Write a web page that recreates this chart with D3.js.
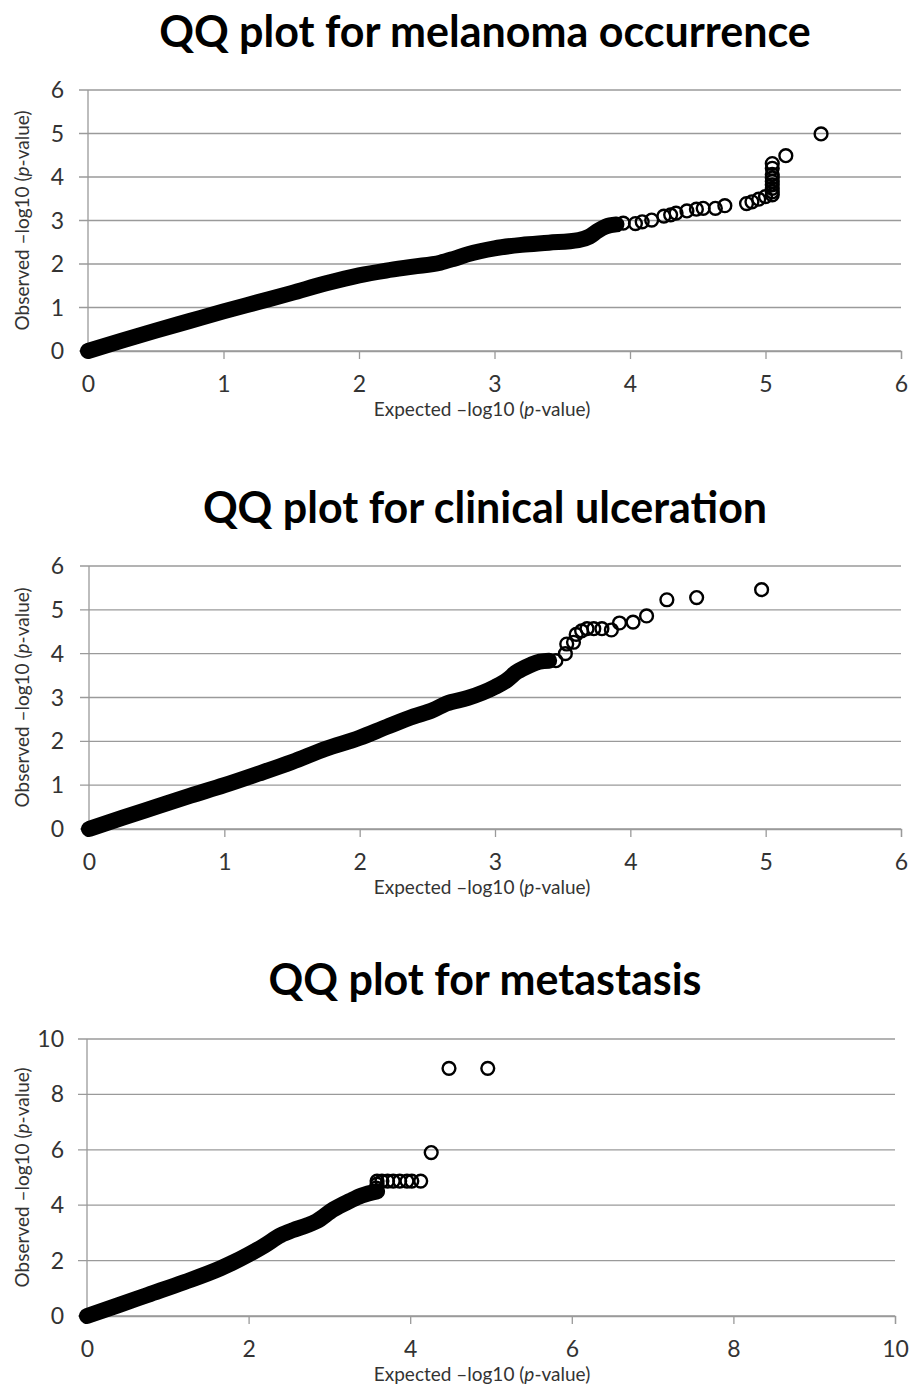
<!DOCTYPE html>
<html>
<head>
<meta charset="utf-8">
<script src="https://cdn.jsdelivr.net/npm/d3@7"></script>
<style>
  body { margin: 0; background: #fff; }
  text { font-family: Lato, "Open Sans", sans-serif; }
</style>
</head>
<body>
<div id="chart"></div>
<script>
// points: [expected, observed]
// dense part of each plot (drawn as a thick band of overlapping markers)
const melanomaDense = [[0,0],[0.25,0.24],[0.5,0.47],[0.75,0.69],[1,0.91],[1.25,1.12],[1.5,1.33],[1.75,1.55],[2,1.74],[2.2,1.85],[2.4,1.94],[2.6,2.03],[2.7,2.12],[2.8,2.22],[3.0,2.36],[3.2,2.44],[3.4,2.49],[3.62,2.55],[3.7,2.63],[3.76,2.76],[3.82,2.86],[3.9,2.91]]
const melanomaTail = [[3.95,2.94],[4.04,2.93],[4.09,2.97],[4.16,3.01],[4.25,3.10],[4.30,3.13],[4.34,3.17],[4.42,3.22],[4.49,3.26],[4.54,3.28],[4.63,3.28],[4.70,3.34],[4.86,3.39],[4.90,3.43],[4.95,3.49],[5.00,3.55],[5.05,3.59],[5.05,3.66],[5.05,3.74],[5.05,3.82],[5.05,3.90],[5.05,3.98],[5.05,4.06],[5.05,4.20],[5.05,4.31],[5.15,4.49],[5.41,4.99]]

const ulcerationDense = [[0,0],[0.25,0.26],[0.5,0.51],[0.75,0.76],[1,1.0],[1.25,1.26],[1.5,1.53],[1.75,1.83],[2,2.08],[2.2,2.33],[2.4,2.57],[2.54,2.71],[2.64,2.86],[2.8,2.99],[3.0,3.24],[3.09,3.4],[3.16,3.58],[3.26,3.74],[3.33,3.82],[3.40,3.84]]
const ulcerationTail = [[3.45,3.84],[3.52,4.00],[3.53,4.22],[3.58,4.26],[3.60,4.44],[3.64,4.52],[3.68,4.57],[3.73,4.57],[3.79,4.57],[3.86,4.54],[3.92,4.70],[4.02,4.72],[4.12,4.86],[4.27,5.23],[4.49,5.28],[4.97,5.46]]

const metastasisDense = [[0,0],[0.4,0.4],[0.75,0.76],[1.2,1.22],[1.65,1.72],[1.8,1.92],[2.0,2.22],[2.2,2.55],[2.4,2.92],[2.55,3.1],[2.72,3.27],[2.84,3.42],[3.05,3.85],[3.25,4.15],[3.4,4.35],[3.59,4.5]]
const metastasisTail = [[3.58,4.62],[3.59,4.76],[3.59,4.87],[3.65,4.87],[3.72,4.87],[3.79,4.87],[3.87,4.87],[3.96,4.87],[4.02,4.87],[4.13,4.87],[4.26,5.90],[4.48,8.94],[4.96,8.94]]

const titles = ["QQ plot for melanoma occurrence", "QQ plot for clinical ulceration", "QQ plot for metastasis"]
const ticks6 = [0, 1, 2, 3, 4, 5, 6]
const ticks10 = [0, 2, 4, 6, 8, 10]

const width = 911, height = 1389
const svg = d3.select("#chart").append("svg")
    .attr("width", width)
    .attr("height", height)

const panels = [
    { title: titles[0], dense: melanomaDense, tail: melanomaTail, ticks: ticks6, left: 88, right: 901, top: 90, bottom: 351, titleY: 47 },
    { title: titles[1], dense: ulcerationDense, tail: ulcerationTail, ticks: ticks6, left: 89, right: 901, top: 566, bottom: 829, titleY: 523 },
    { title: titles[2], dense: metastasisDense, tail: metastasisTail, ticks: ticks10, left: 87, right: 895, top: 1039, bottom: 1316, titleY: 995 },
]

const r = 6.4, sw = 2.4

panels.forEach(p => {
    const max = d3.max(p.ticks)
    const x = d3.scaleLinear().domain([0, max]).range([p.left, p.right])
    const y = d3.scaleLinear().domain([0, max]).range([p.bottom, p.top])
    const g = svg.append("g")

    // gridlines (they run a little left of the axis, as tick marks)
    g.append("g").selectAll("line").data(p.ticks).join("line")
        .attr("x1", p.left - 9).attr("x2", p.right)
        .attr("y1", d => y(d)).attr("y2", d => y(d))
        .attr("stroke", "#9a9a9a").attr("stroke-width", 1.3)

    // y axis line
    g.append("line")
        .attr("x1", p.left).attr("x2", p.left)
        .attr("y1", p.top).attr("y2", p.bottom)
        .attr("stroke", "#9a9a9a").attr("stroke-width", 1.3)

    // x axis with ticks pointing down
    const xAxis = g.append("g")
        .attr("transform", `translate(0,${p.bottom})`)
        .call(d3.axisBottom(x).tickValues(p.ticks).tickSize(8).tickPadding(10).tickFormat(d3.format("d")))
    xAxis.select(".domain").attr("stroke", "#9a9a9a").attr("stroke-width", 1.3)
    xAxis.selectAll(".tick line").attr("stroke", "#9a9a9a").attr("stroke-width", 1.3)
    xAxis.selectAll(".tick text")
        .attr("font-family", "Lato, sans-serif").attr("font-size", 23).attr("fill", "#333")
        .attr("dy", null).attr("y", 41)

    // y tick labels
    g.append("g").selectAll("text").data(p.ticks).join("text")
        .attr("x", 64).attr("y", d => y(d) + 8)
        .attr("text-anchor", "end")
        .attr("font-size", 23).attr("fill", "#333")
        .text(d => d)

    // title
    g.append("text")
        .attr("x", 485).attr("y", p.titleY)
        .attr("text-anchor", "middle")
        .attr("font-size", 43).attr("font-weight", "bold")
        .text(p.title)

    // axis titles
    const xt = g.append("text")
        .attr("x", 482).attr("y", p.bottom + 65)
        .attr("text-anchor", "middle")
        .attr("font-size", 19).attr("fill", "#333")
    xt.append("tspan").text("Expected \u2013log10 (")
    xt.append("tspan").attr("font-style", "italic").text("p")
    xt.append("tspan").text("-value)")

    const yt = g.append("text")
        .attr("transform", `translate(29,${(p.top + p.bottom) / 2}) rotate(-90)`)
        .attr("text-anchor", "middle")
        .attr("font-size", 19).attr("fill", "#333")
    yt.append("tspan").text("Observed \u2013log10 (")
    yt.append("tspan").attr("font-style", "italic").text("p")
    yt.append("tspan").text("-value)")

    // dense part: overlapping markers merge into a solid band
    const line = d3.line().x(d => x(d[0])).y(d => y(d[1])).curve(d3.curveMonotoneX)
    g.append("path")
        .datum(p.dense)
        .attr("d", line)
        .attr("fill", "none")
        .attr("stroke", "#000")
        .attr("stroke-width", 16)
        .attr("stroke-linecap", "round")
        .attr("stroke-linejoin", "round")

    // sparse tail as open circles
    g.append("g").selectAll("circle").data(p.tail).join("circle")
        .attr("cx", d => x(d[0])).attr("cy", d => y(d[1]))
        .attr("r", r)
        .attr("fill", "none")
        .attr("stroke", "#000")
        .attr("stroke-width", sw)
})
</script>
</body>
</html>
